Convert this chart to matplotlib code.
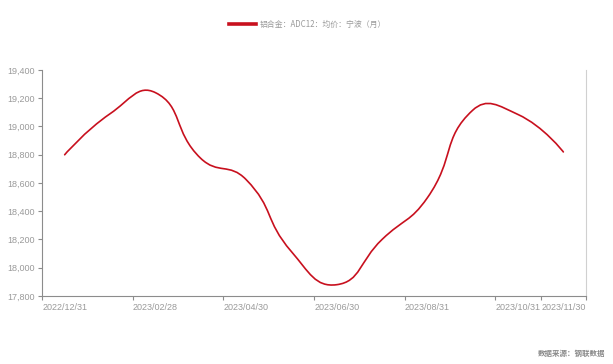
import numpy as np
import matplotlib
matplotlib.use("Agg")
import matplotlib.pyplot as plt
from matplotlib.path import Path
from matplotlib.patches import PathPatch
from matplotlib.lines import Line2D

# Monthly average price, ADC12 aluminium alloy, Ningbo (yuan/ton)
months = ["2022/12/31", "2023/01/31", "2023/02/28", "2023/03/31",
          "2023/04/30", "2023/05/31", "2023/06/30", "2023/07/31",
          "2023/08/31", "2023/09/30", "2023/10/31", "2023/11/30"]
prices = [18800, 19090, 19240, 18775, 18625, 18115,
          17880, 18200, 18495, 19115, 19085, 18820]
shown_labels = ["2022/12/31", "2023/02/28", "2023/04/30", "2023/06/30",
                "2023/08/31", "2023/10/31", "2023/11/30"]
y_ticks = [17800, 18000, 18200, 18400, 18600, 18800, 19000, 19200, 19400]
series_name = "铝合金：ADC12：均价：宁波（月）"
source_note = "数据来源：钢联数据"

LINE_RED = "#c8101e"
GRAY = "#9a9a9a"
AXIS_GRAY = "#8c8c8c"
TICK_FONT = ["Liberation Sans Narrow", "Liberation Sans", "DejaVu Sans"]
CJK_FONT = ["Noto Sans CJK SC", "DejaVu Sans"]

fig = plt.figure(figsize=(6.13, 3.64), dpi=100)
ax = fig.add_axes([42 / 613, 1 - 296 / 364, (586 - 42) / 613, (296 - 70) / 364])

n = len(months)
xs = np.arange(n, dtype=float)
ax.set_xlim(-0.5, n - 0.5)
ax.set_ylim(y_ticks[0], y_ticks[-1])


def smooth_path(ax, x, y, smooth=0.5):
    """Bezier path through the points, control arms split by segment length."""
    pts = ax.transData.transform(np.column_stack([x, y]))
    m = len(pts)
    verts = [pts[0]]
    codes = [Path.MOVETO]
    cp0 = pts[0].copy()
    for i in range(1, m):
        p = pts[i]
        prev = pts[i - 1]
        if i < m - 1:
            nxt = pts[i + 1]
            v = nxt - prev
            len_prev = np.hypot(*(p - prev))
            len_next = np.hypot(*(nxt - p))
            r = len_next / (len_next + len_prev)
            cp1 = p - v * smooth * (1 - r)
            next_cp0 = p + v * smooth * r
        else:
            cp1 = p.copy()
            next_cp0 = p.copy()
        verts += [cp0, cp1, p]
        codes += [Path.CURVE4] * 3
        cp0 = next_cp0
    inv = ax.transData.inverted()
    return Path(inv.transform(np.array(verts)), codes)


path = smooth_path(ax, xs, prices)
ax.add_patch(PathPatch(path, facecolor="none", edgecolor=LINE_RED,
                       lw=1.2, capstyle="round", joinstyle="round", zorder=3))

# axes styling
ax.spines["top"].set_visible(False)
ax.spines["left"].set_color(AXIS_GRAY)
ax.spines["bottom"].set_color(AXIS_GRAY)
ax.spines["right"].set_color("#d0d0d0")
for s in ["left", "bottom", "right"]:
    ax.spines[s].set_linewidth(0.8)

ax.set_yticks(y_ticks)
ax.set_yticklabels([f"{v:,}" for v in y_ticks], family=TICK_FONT,
                   fontsize=6.5, color=GRAY)
ax.tick_params(axis="y", direction="out", length=3, width=0.8,
               colors=AXIS_GRAY, labelcolor=GRAY, pad=2)

# category boundaries carry the tick marks, labels sit at category centres
label_idx = [months.index(m) for m in shown_labels]
boundary_ticks = [i - 0.5 for i in label_idx] + [n - 0.5]
ax.set_xticks(boundary_ticks)
ax.set_xticklabels([])
ax.set_xticks(label_idx, minor=True)
ax.set_xticklabels(shown_labels, minor=True, family=TICK_FONT,
                   fontsize=6.5, color=GRAY)
ax.tick_params(axis="x", which="major", direction="out", length=3,
               width=0.8, colors=AXIS_GRAY)
ax.tick_params(axis="x", which="minor", length=0, pad=5, labelcolor=GRAY)

# legend
handle = Line2D([], [], color=LINE_RED, lw=2.6)
leg = fig.legend([handle], [series_name], loc="center",
                 bbox_to_anchor=(0.502, 1 - 24 / 364), frameon=False,
                 handlelength=3.3, handletextpad=0.5,
                 prop={"family": CJK_FONT, "size": 5.7})
for t in leg.get_texts():
    t.set_color(GRAY)

fig.text(605 / 613, 1 - 353 / 364, source_note, ha="right", va="center",
         family=CJK_FONT, fontsize=5.4, color="#8a8a8a", fontweight="bold")

fig.savefig("out.png", dpi=100, facecolor="white")
